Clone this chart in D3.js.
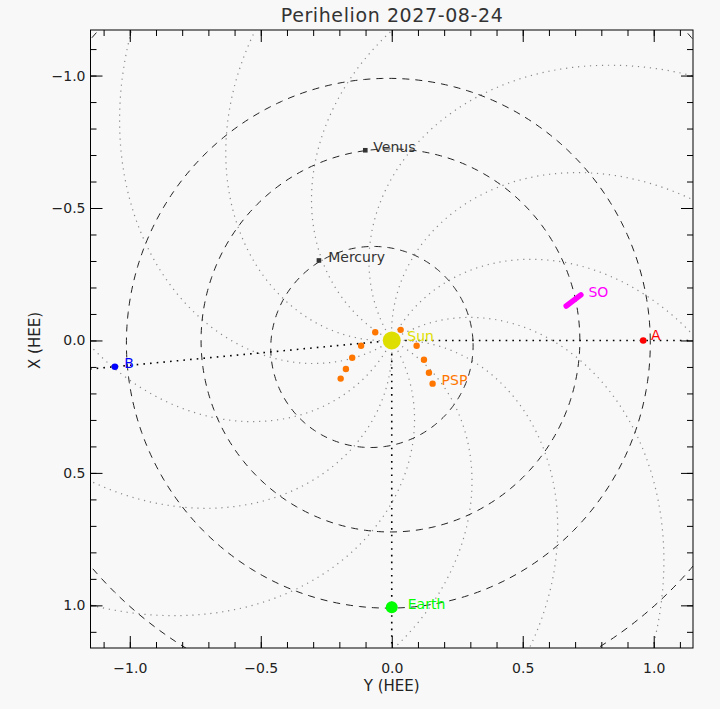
<!DOCTYPE html>
<html>
<head>
<meta charset="utf-8">
<script src="https://cdn.jsdelivr.net/npm/d3@7"></script>
<style>
  body { margin: 0; background: #f8f8f8; }
  text { font-family: "DejaVu Sans", sans-serif; }
</style>
</head>
<body>
<svg id="chart" width="720" height="709"></svg>
<script>
// ===== Perihelion 2027-08-24 — HEE positions =====

const titleText = 'Perihelion 2027-08-24';
const majorTicks = [-1.0, -0.5, 0.0, 0.5, 1.0];

// Planet orbits (AU, eccentricity, perihelion angle in deg, ccw from +Y)
const orbitNames     = ['Mercury', 'Venus', 'Earth', 'Mars'];
const orbitSemiMajor = [0.387, 0.723, 1.0, 1.524];
const orbitEcc       = [0.2056, 0.0068, 0.0167, 0.0934];
const orbitPeriAngle = [18, 0, 39, -90];

// Parker spirals: footpoint angles (deg, ccw from +Y) and winding (rad / AU)
const spiralFootAngles = [3, 33, 63, 93, 123, 153, 183, 213, 243, 273, 303, 333];
const spiralRate = 0.94;

// Bodies: HEE Y (horizontal) and HEE X (vertical)
const bodyNames  = ['Sun', 'Mercury', 'Venus', 'Earth', 'A', 'B'];
const bodyY      = [0.0, -0.278, -0.101, 0.0, 0.960, -1.057];
const bodyX      = [0.0, -0.302, -0.718, 1.007, 0.0, 0.099];
const bodyColors = ['#dede00', '#333333', '#333333', '#00ff00', '#ff0000', '#0000ff'];

// Rays drawn from the Sun through these bodies
const rayTargets = ['A', 'B', 'Earth'];

// Parker Solar Probe track
const pspY = [-0.195, -0.175, -0.151, -0.117, -0.063, 0.034, 0.095, 0.123, 0.142, 0.156];
const pspX = [0.144, 0.108, 0.065, 0.020, -0.031, -0.040, 0.020, 0.073, 0.122, 0.163];

// Solar Orbiter track
const soY = [0.666, 0.722];
const soX = [-0.130, -0.172];

// ---- Setup ----
const svg = d3.select('#chart');
const plotLeft = 90.5, plotRight = 693, plotTop = 30, plotBottom = 648;

const x = d3.scaleLinear().domain([-1.15, 1.15]).range([plotLeft, plotRight]);
const y = d3.scaleLinear().domain([-1.172, 1.161]).range([plotTop, plotBottom]);

svg.append('rect')
  .attr('width', 720).attr('height', 709)
  .attr('fill', '#f8f8f8');

svg.append('defs').append('clipPath').attr('id', 'plot-clip')
  .append('rect')
  .attr('x', plotLeft).attr('y', plotTop)
  .attr('width', plotRight - plotLeft).attr('height', plotBottom - plotTop);

const plot = svg.append('g').attr('clip-path', 'url(#plot-clip)');

// helper: visual polar (angle ccw from +Y, radius) -> HEE point
function polar(r, deg) {
  const a = deg * Math.PI / 180;
  return [r * Math.cos(a), -r * Math.sin(a)];
}

const line = d3.line().x(d => x(d[0])).y(d => y(d[1]));

// ---- Parker spirals ----
const spiralRadii = d3.range(0, 1.8, 0.01);
spiralFootAngles.forEach(a0 => {
  const pts = spiralRadii.map(r => polar(r, a0 - spiralRate * r * 180 / Math.PI));
  plot.append('path')
    .attr('d', line(pts))
    .attr('fill', 'none')
    .attr('stroke', '#888')
    .attr('stroke-width', 1.2)
    .attr('stroke-dasharray', '1.2,4.8');
});

// ---- Orbits ----
const orbitAngles = d3.range(0, 361, 1);
orbitNames.forEach((name, i) => {
  const a = orbitSemiMajor[i], e = orbitEcc[i], p = orbitPeriAngle[i];
  const pts = orbitAngles.map(t => {
    const r = a * (1 - e * e) / (1 + e * Math.cos((t - p) * Math.PI / 180));
    return polar(r, t);
  });
  plot.append('path')
    .attr('d', line(pts))
    .attr('fill', 'none')
    .attr('stroke', '#222')
    .attr('stroke-width', 1)
    .attr('stroke-dasharray', '7,6');
});

// ---- Rays from the Sun ----
rayTargets.forEach(name => {
  const i = bodyNames.indexOf(name);
  plot.append('line')
    .attr('x1', x(0)).attr('y1', y(0))
    .attr('x2', x(bodyY[i] * 3)).attr('y2', y(bodyX[i] * 3))
    .attr('stroke', '#000')
    .attr('stroke-width', 1.6)
    .attr('stroke-dasharray', '1.6,5.1');
});

// ---- PSP ----
const psp = pspY.map((v, i) => [v, pspX[i]]);
plot.selectAll('.psp')
  .data(psp)
  .enter()
  .append('circle')
  .attr('class', 'psp')
  .attr('cx', d => x(d[0])).attr('cy', d => y(d[1]))
  .attr('r', 3.2)
  .attr('fill', '#ff7700');

// ---- SO ----
plot.append('path')
  .attr('d', line(soY.map((v, i) => [v, soX[i]])))
  .attr('stroke', '#ff00ff')
  .attr('stroke-width', 5.5)
  .attr('stroke-linecap', 'round')
  .attr('fill', 'none');

// ---- Bodies ----
const bodySizes = { Sun: 9, Mercury: 2.3, Venus: 2.3, Earth: 6, A: 3.3, B: 3.3 };
bodyNames.forEach((name, i) => {
  const cx = x(bodyY[i]), cy = y(bodyX[i]);
  if (name === 'Mercury' || name === 'Venus') {
    const s = bodySizes[name];
    plot.append('rect')
      .attr('x', cx - s).attr('y', cy - s)
      .attr('width', 2 * s).attr('height', 2 * s)
      .attr('fill', bodyColors[i]);
  } else {
    plot.append('circle')
      .attr('cx', cx).attr('cy', cy)
      .attr('r', bodySizes[name])
      .attr('fill', bodyColors[i]);
  }
});

// ---- Labels ----
const labelOffsets = {
  Sun: [15.5, 0.5], Mercury: [9.3, 1.5], Venus: [8, 1.6], Earth: [16, 2],
  A: [7.7, 0], B: [9.3, 1]
};
bodyNames.forEach((name, i) => {
  const o = labelOffsets[name];
  svg.append('text')
    .attr('x', x(bodyY[i]) + o[0])
    .attr('y', y(bodyX[i]) + o[1])
    .attr('font-size', 14)
    .attr('fill', bodyColors[i])
    .text(name);
});
svg.append('text')
  .attr('x', x(pspY[pspY.length - 1]) + 9)
  .attr('y', y(pspX[pspX.length - 1]) + 1.6)
  .attr('font-size', 14)
  .attr('fill', '#ff7700')
  .text('PSP');
svg.append('text')
  .attr('x', x(soY[soY.length - 1]) + 7.6)
  .attr('y', y(soX[soX.length - 1]) + 1.7)
  .attr('font-size', 14)
  .attr('fill', '#ff00ff')
  .text('SO');

// ---- Axes ----
const minorTicks = d3.range(-11, 12).map(i => i / 10);
const fmt = d3.format('.1f');

function styleAxis(g) {
  g.select('.domain').remove();
  g.selectAll('.tick line').attr('stroke', '#000');
  g.selectAll('.tick text').attr('fill', '#222').attr('font-size', 14)
    .attr('font-family', '"DejaVu Sans", sans-serif');
}

svg.append('g').attr('transform', `translate(0,${plotBottom})`)
  .call(d3.axisBottom(x).tickValues(minorTicks).tickSize(-6).tickFormat(''))
  .call(styleAxis);
svg.append('g').attr('transform', `translate(0,${plotBottom})`)
  .call(d3.axisBottom(x).tickValues(majorTicks).tickSize(-12).tickPadding(15).tickFormat(fmt))
  .call(styleAxis);
svg.append('g').attr('transform', `translate(0,${plotTop})`)
  .call(d3.axisTop(x).tickValues(minorTicks).tickSize(-6).tickFormat(''))
  .call(styleAxis);
svg.append('g').attr('transform', `translate(0,${plotTop})`)
  .call(d3.axisTop(x).tickValues(majorTicks).tickSize(-12).tickFormat(''))
  .call(styleAxis);

svg.append('g').attr('transform', `translate(${plotLeft},0)`)
  .call(d3.axisLeft(y).tickValues(minorTicks).tickSize(-6).tickFormat(''))
  .call(styleAxis);
svg.append('g').attr('transform', `translate(${plotLeft},0)`)
  .call(d3.axisLeft(y).tickValues(majorTicks).tickSize(-12).tickPadding(5).tickFormat(fmt))
  .call(styleAxis);
svg.append('g').attr('transform', `translate(${plotRight},0)`)
  .call(d3.axisRight(y).tickValues(minorTicks).tickSize(-6).tickFormat(''))
  .call(styleAxis);
svg.append('g').attr('transform', `translate(${plotRight},0)`)
  .call(d3.axisRight(y).tickValues(majorTicks).tickSize(-12).tickFormat(''))
  .call(styleAxis);

// frame
svg.append('rect')
  .attr('x', plotLeft).attr('y', plotTop)
  .attr('width', plotRight - plotLeft).attr('height', plotBottom - plotTop)
  .attr('fill', 'none')
  .attr('stroke', '#000')
  .attr('stroke-width', 1);

// titles
svg.append('text')
  .attr('x', (plotLeft + plotRight) / 2).attr('y', 22)
  .attr('text-anchor', 'middle')
  .attr('font-size', 19)
  .attr('textLength', 222)
  .attr('lengthAdjust', 'spacing')
  .attr('fill', '#333')
  .text(titleText);

svg.append('text')
  .attr('x', (plotLeft + plotRight) / 2).attr('y', 691)
  .attr('text-anchor', 'middle')
  .attr('font-size', 15)
  .attr('fill', '#222')
  .text('Y (HEE)');

svg.append('text')
  .attr('transform', `translate(40,${y(0)}) rotate(-90)`)
  .attr('text-anchor', 'middle')
  .attr('font-size', 15)
  .attr('fill', '#222')
  .text('X (HEE)');
</script>
</body>
</html>
